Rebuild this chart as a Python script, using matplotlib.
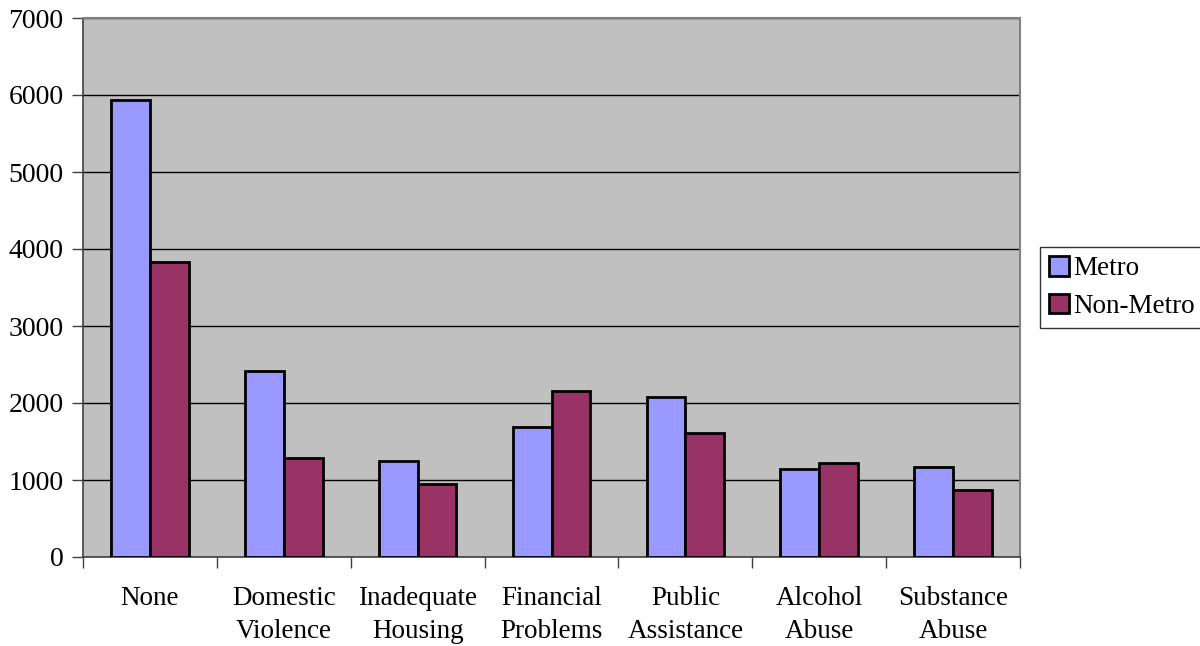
import matplotlib.pyplot as plt
import numpy as np

categories = ["None", "Domestic\nViolence", "Inadequate\nHousing", "Financial\nProblems",
              "Public\nAssistance", "Alcohol\nAbuse", "Substance\nAbuse"]
metro = [5935, 2416, 1250, 1684, 2078, 1139, 1165]
non_metro = [3831, 1286, 948, 2156, 1610, 1221, 870]

plt.rcParams['font.family'] = ['Liberation Serif', 'DejaVu Serif']

fig = plt.figure(figsize=(12, 6.46), dpi=100)
ax = fig.add_axes([83 / 1200, 89 / 646, 937 / 1200, 539 / 646])
ax.set_facecolor('#C0C0C0')

x = np.arange(len(categories))
w = 0.29
ax.bar(x - w / 2, metro, w, color='#9999FF', edgecolor='black', linewidth=2, label='Metro', zorder=3)
ax.bar(x + w / 2, non_metro, w, color='#993366', edgecolor='black', linewidth=2, label='Non-Metro', zorder=3)

ax.set_xlim(-0.5, len(categories) - 0.5)
ax.set_ylim(0, 7000)
ax.set_yticks(range(0, 7001, 1000))
ax.yaxis.grid(True, color='black', linewidth=1, zorder=1)
ax.set_axisbelow(True)

# category ticks sit between groups, labels in the middle
ax.set_xticks(np.arange(-0.5, len(categories), 1.0))
ax.set_xticklabels([])
ax.set_xticks(x, minor=True)
ax.set_xticklabels(categories, minor=True, fontsize=19.5, linespacing=1.4)
ax.tick_params(axis='x', which='major', direction='out', length=8, width=1, color='#404040')
ax.tick_params(axis='x', which='minor', length=0, pad=21)
ax.tick_params(axis='y', direction='out', length=8, width=1, labelsize=20, color='#404040', pad=6)

for s in ['top', 'right']:
    ax.spines[s].set_color('#808080')
    ax.spines[s].set_linewidth(1.5)
for s in ['left', 'bottom']:
    ax.spines[s].set_color('#404040')
    ax.spines[s].set_linewidth(1.2)

leg = ax.legend(loc='center left', bbox_to_anchor=(1.021, 0.5), fontsize=19.5, frameon=True,
                fancybox=False, edgecolor='black', handlelength=0.75, handleheight=0.75,
                handletextpad=0.15, borderpad=0.35, labelspacing=0.45, borderaxespad=0)
leg.get_frame().set_linewidth(1)

fig.savefig('out.png', dpi=100)
